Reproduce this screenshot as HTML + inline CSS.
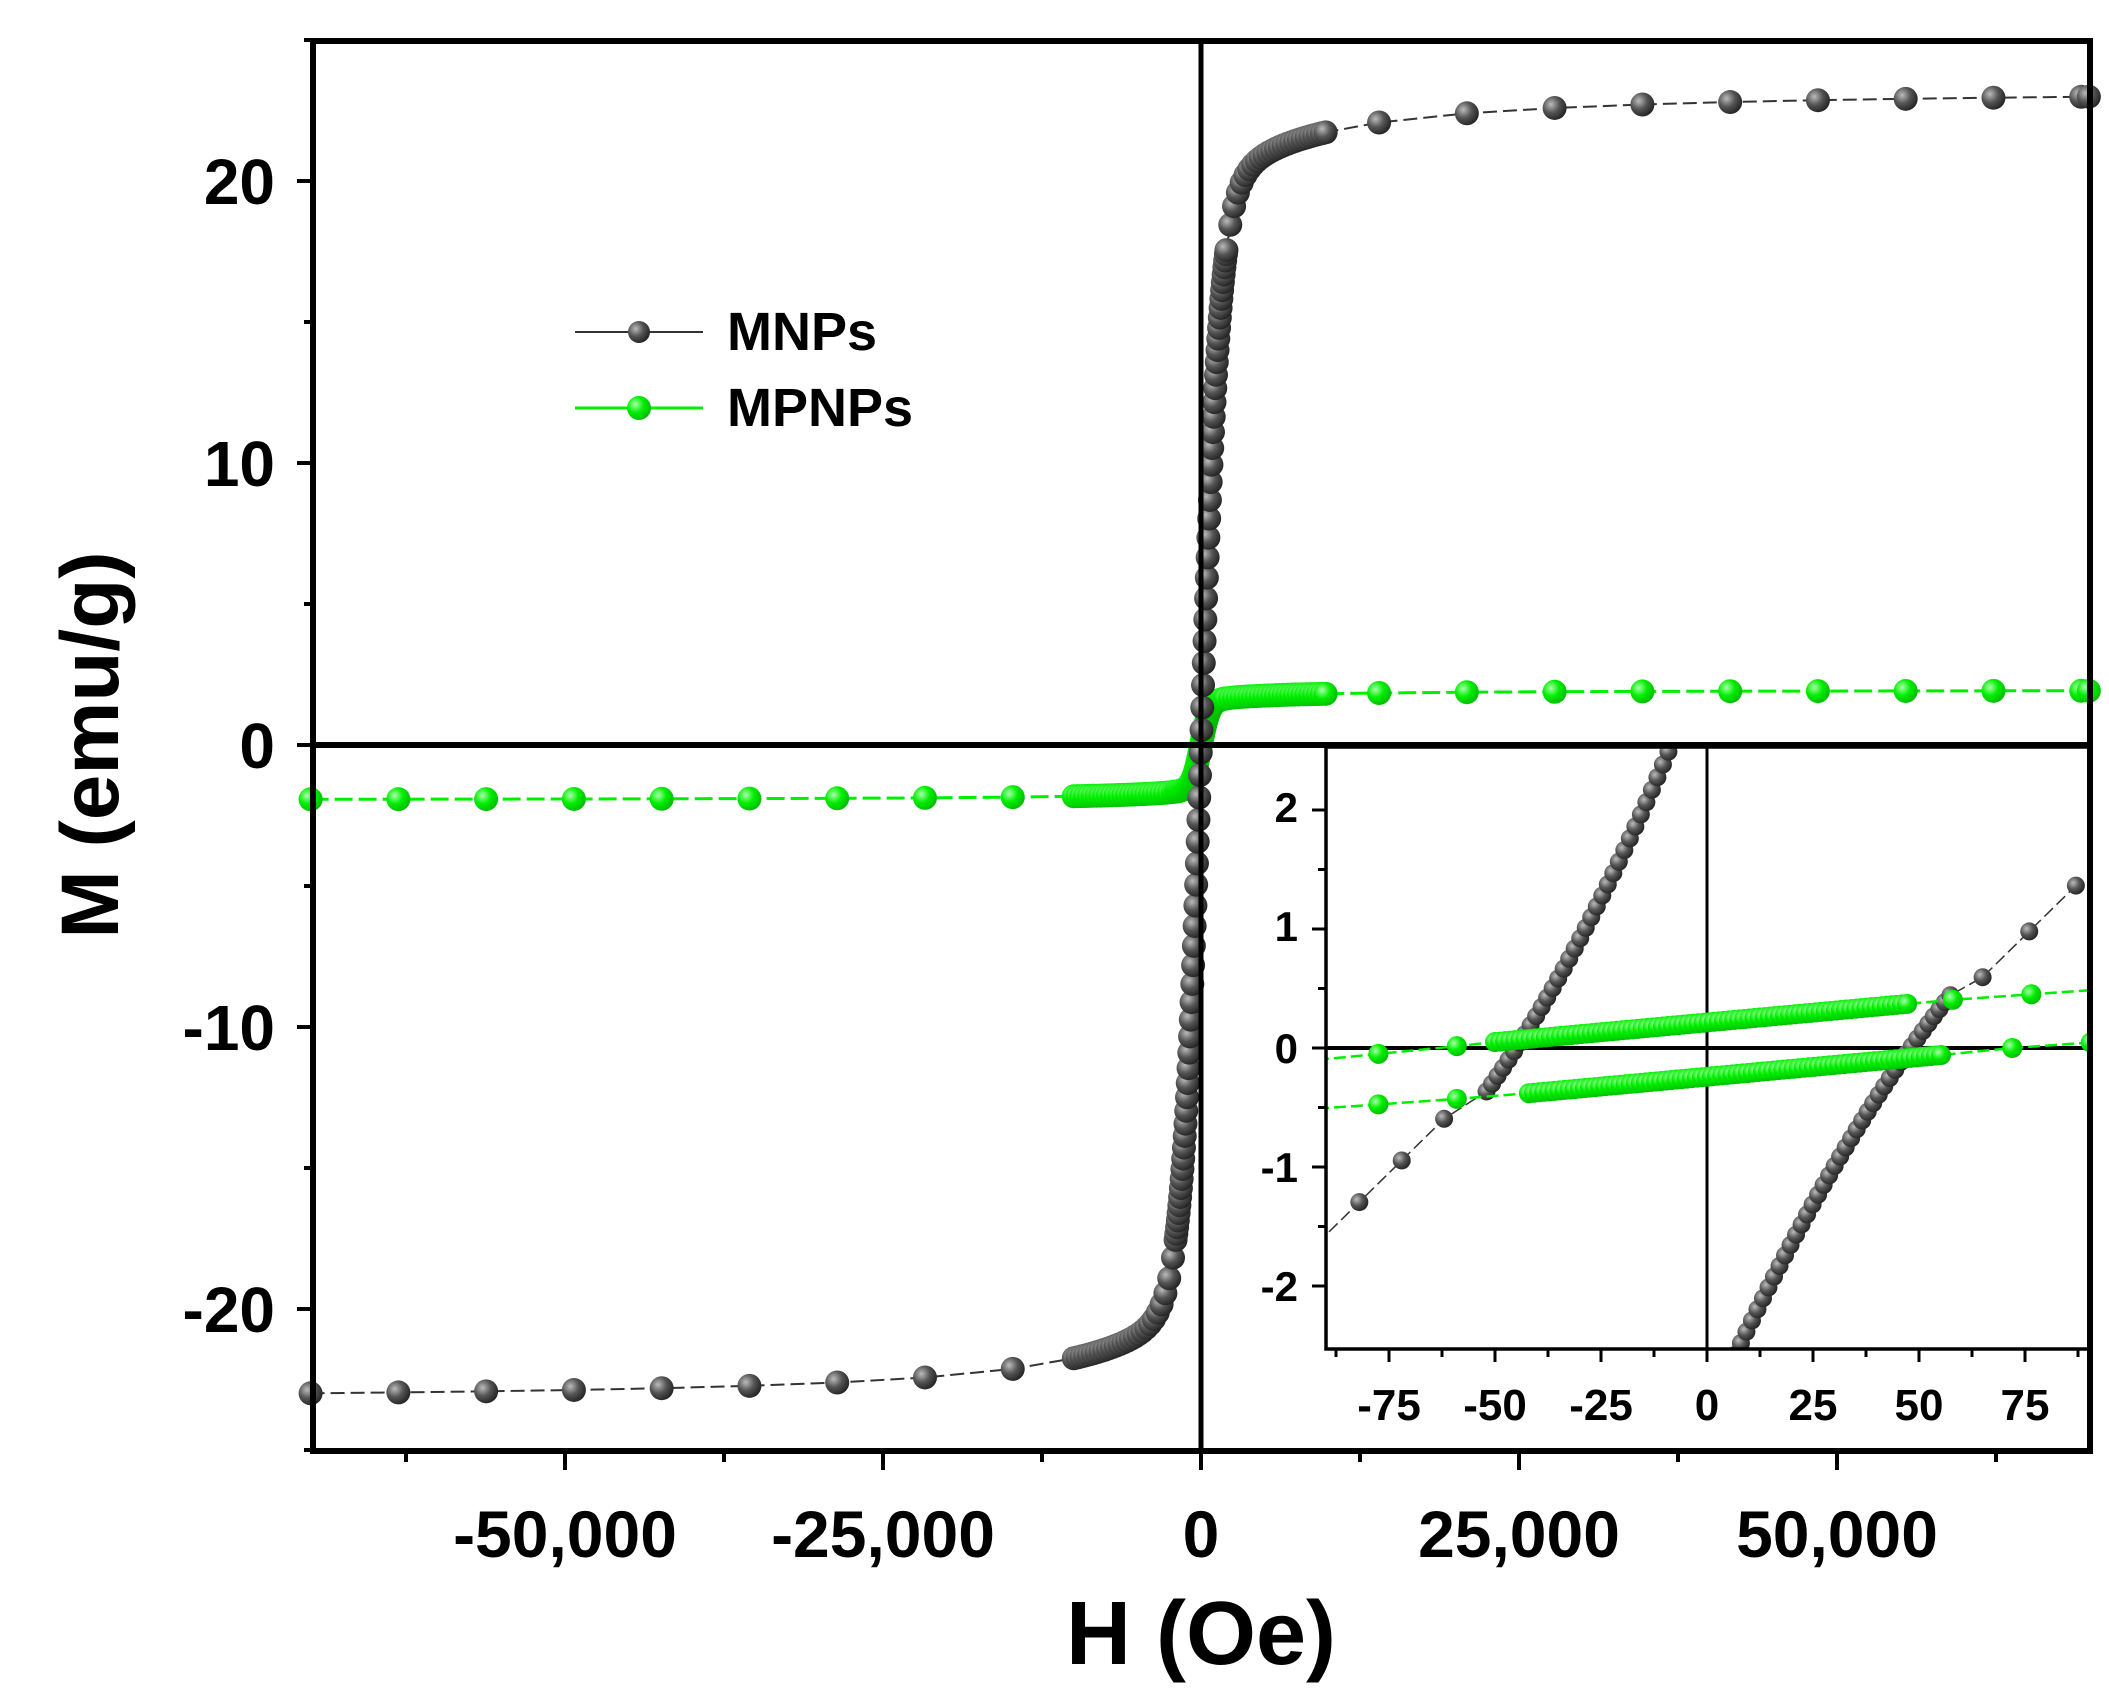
<!DOCTYPE html>
<html><head><meta charset="utf-8"><style>
html,body{margin:0;padding:0;background:#fff;}
svg{display:block;}
text{font-family:"Liberation Sans",Arial,sans-serif;font-weight:bold;fill:#000;}
</style></head><body>
<svg id="s" width="2109" height="1694" viewBox="0 0 2109 1694" xmlns="http://www.w3.org/2000/svg">
<defs>
<radialGradient id="gg" cx="0.35" cy="0.35" r="0.7"><stop offset="0" stop-color="#bbb"/><stop offset="0.5" stop-color="#555"/><stop offset="1" stop-color="#222"/></radialGradient>
<radialGradient id="gr" cx="0.35" cy="0.35" r="0.7"><stop offset="0" stop-color="#aaffaa"/><stop offset="0.5" stop-color="#00ee00"/><stop offset="1" stop-color="#00bb00"/></radialGradient>
</defs>
<g id="main"></g>
<text x="1201" y="1557" font-size="66" text-anchor="middle">0</text>
<text x="565" y="1557" font-size="66" text-anchor="middle">-50,000</text>
<text x="883" y="1557" font-size="66" text-anchor="middle">-25,000</text>
<text x="1519" y="1557" font-size="66" text-anchor="middle">25,000</text>
<text x="1837" y="1557" font-size="66" text-anchor="middle">50,000</text>
<text x="275" y="204" font-size="64" text-anchor="end">20</text>
<text x="275" y="486" font-size="64" text-anchor="end">10</text>
<text x="275" y="768" font-size="64" text-anchor="end">0</text>
<text x="275" y="1050" font-size="64" text-anchor="end">-10</text>
<text x="275" y="1332" font-size="64" text-anchor="end">-20</text>
<text x="1201" y="1664" font-size="90" text-anchor="middle">H (Oe)</text>
<text transform="translate(118,745) rotate(-90)" font-size="82" text-anchor="middle">M (emu/g)</text>
<text x="1298" y="822" font-size="42" text-anchor="end">2</text>
<text x="1298" y="941" font-size="42" text-anchor="end">1</text>
<text x="1298" y="1063" font-size="42" text-anchor="end">0</text>
<text x="1298" y="1182" font-size="42" text-anchor="end">-1</text>
<text x="1298" y="1301" font-size="42" text-anchor="end">-2</text>
<text x="1389" y="1420" font-size="44" text-anchor="middle">-75</text>
<text x="1495" y="1420" font-size="44" text-anchor="middle">-50</text>
<text x="1601" y="1420" font-size="44" text-anchor="middle">-25</text>
<text x="1707" y="1420" font-size="44" text-anchor="middle">0</text>
<text x="1813" y="1420" font-size="44" text-anchor="middle">25</text>
<text x="1919" y="1420" font-size="44" text-anchor="middle">50</text>
<text x="2025" y="1420" font-size="44" text-anchor="middle">75</text>
<line x1="575" y1="332" x2="703" y2="332" stroke="#333" stroke-width="2"/>
<circle cx="639" cy="332" r="11" fill="url(#gg)"/>
<line x1="575" y1="408" x2="703" y2="408" stroke="#00ee00" stroke-width="3"/>
<circle cx="639" cy="408" r="12" fill="url(#gr)"/>
<text x="727" y="350" font-size="54">MNPs</text>
<text x="727" y="426" font-size="54">MPNPs</text>
</svg>
<script>
var NS="http://www.w3.org/2000/svg",g=document.getElementById("main");
function el(t,a){var e=document.createElementNS(NS,t);for(var k in a)e.setAttribute(k,a[k]);g.appendChild(e);return e;}
var X=function(h){return 1201+h*0.01272},Y=function(m){return 745-m*28.2};
function series(pts,col,fill,r,sw,dash){
 el("polyline",{points:pts.map(p=>p[0].toFixed(1)+","+p[1].toFixed(1)).join(" "),fill:"none",stroke:col,"stroke-width":sw,"stroke-dasharray":dash||""});
 pts.forEach(p=>el("circle",{cx:p[0],cy:p[1],r:r,fill:fill}));
}
function Hs(){var a=[];for(var h=-70000;h<-10000;h+=6900)a.push(h);for(var h=-10000;h<-2000;h+=300)a.push(h);for(var h=-2000;h<=2000;h+=60)a.push(h);for(var h=2000;h<=10000;h+=300)a.push(h);for(var h=14000;h<=70000;h+=6900)a.push(h);a.push(69800);return a;}
var H=Hs();
function mn(h){return 23.3*(0.8*Math.tanh(h/1500)+0.2*h/(Math.abs(h)+5000));}
function mp(h){return 1.55*Math.tanh(h/700)+0.4*h/(Math.abs(h)+5000);}
series(H.map(h=>[X(h),Y(mp(h))]),"#00ee00","url(#gr)",12,3,"18,6");
series(H.map(h=>[X(h),Y(mn(h))]),"#333","url(#gg)",12,2,"14,6");
el("rect",{x:1326,y:747,width:764,height:602,fill:"#fff"});
var x=function(h){return 1707+h*4.24},y=function(m){return 1048-m*119};
var cp=el("clipPath",{id:"cp"});var rr=document.createElementNS(NS,"rect");rr.setAttribute("x",1326);rr.setAttribute("y",747);rr.setAttribute("width",764);rr.setAttribute("height",602);cp.appendChild(rr);
var gi=document.createElementNS(NS,"g");gi.setAttribute("clip-path","url(#cp)");g.appendChild(gi);
var gsave=g;g=gi;
el("line",{x1:1326,y1:1048,x2:2090,y2:1048,stroke:"#000","stroke-width":4});
el("line",{x1:1707,y1:747,x2:1707,y2:1349,stroke:"#000","stroke-width":3});
var a=[],b=[];
for(var h=-92;h<-52;h+=10)a.push([h,0.035*(h+45)]);
for(var h=-52;h<=5;h+=1.3)a.push([h,0.055*(h+45)+0.0004*(h+45)*(h+45)]);
for(var h=-5;h<=58;h+=1.3)b.push([h,0.05*(h-48)-0.0003*(h-48)*(h-48)]);
for(var h=65;h<=95;h+=11)b.push([h,0.035*(h-48)]);
series(a.map(p=>[x(p[0]),y(p[1])]),"#333","url(#gg)",9,1.5,"12,5");
series(b.map(p=>[x(p[0]),y(p[1])]),"#333","url(#gg)",9,1.5,"12,5");
var c=[],d=[];
for(var h=-96;h<-50;h+=18.5)c.push([h,-0.1+0.0035*(h+92)]);
for(var h=-50;h<=48;h+=1.2)c.push([h,0.05+0.0033*(h+50)]);
for(var h=58;h<=96;h+=18.5)c.push([h,0.38+0.0025*(h-48)]);
for(var h=-96;h<-42;h+=18.5)d.push([h,-0.5+0.0025*(h+88)]);
for(var h=-42;h<=56;h+=1.2)d.push([h,-0.38+0.0033*(h+42)]);
for(var h=72;h<=96;h+=18.5)d.push([h,-0.04+0.0025*(h-56)]);
series(c.map(p=>[x(p[0]),y(p[1])]),"#00ee00","url(#gr)",10,2.5,"12,5");
series(d.map(p=>[x(p[0]),y(p[1])]),"#00ee00","url(#gr)",10,2.5,"12,5");
g=gsave;
el("rect",{x:1326,y:747,width:764,height:602,fill:"none",stroke:"#000","stroke-width":3.5});
for(var m=-2;m<=2;m+=0.5)el("line",{x1:1326,y1:y(m),x2:m%1==0?1312:1318,y2:y(m),stroke:"#000","stroke-width":3});
for(var h=-87.5;h<=90;h+=12.5)el("line",{x1:x(h),y1:1349,x2:x(h),y2:h%25==0?1362:1357,stroke:"#000","stroke-width":3});
el("line",{x1:313,y1:745,x2:2090,y2:745,stroke:"#000","stroke-width":6});
el("line",{x1:1201,y1:41,x2:1201,y2:1451,stroke:"#000","stroke-width":5});
el("rect",{x:313,y:41,width:1777,height:1410,fill:"none",stroke:"#000","stroke-width":6});
for(var m=-25;m<=25;m+=5)el("line",{x1:313,y1:Y(m),x2:m%10==0?297:304,y2:Y(m),stroke:"#000","stroke-width":4});
for(var h=-62500;h<=70000;h+=12500)el("line",{x1:X(h),y1:1451,x2:X(h),y2:h%25000==0?1470:1462,stroke:"#000","stroke-width":4});
</script>
</body></html>
